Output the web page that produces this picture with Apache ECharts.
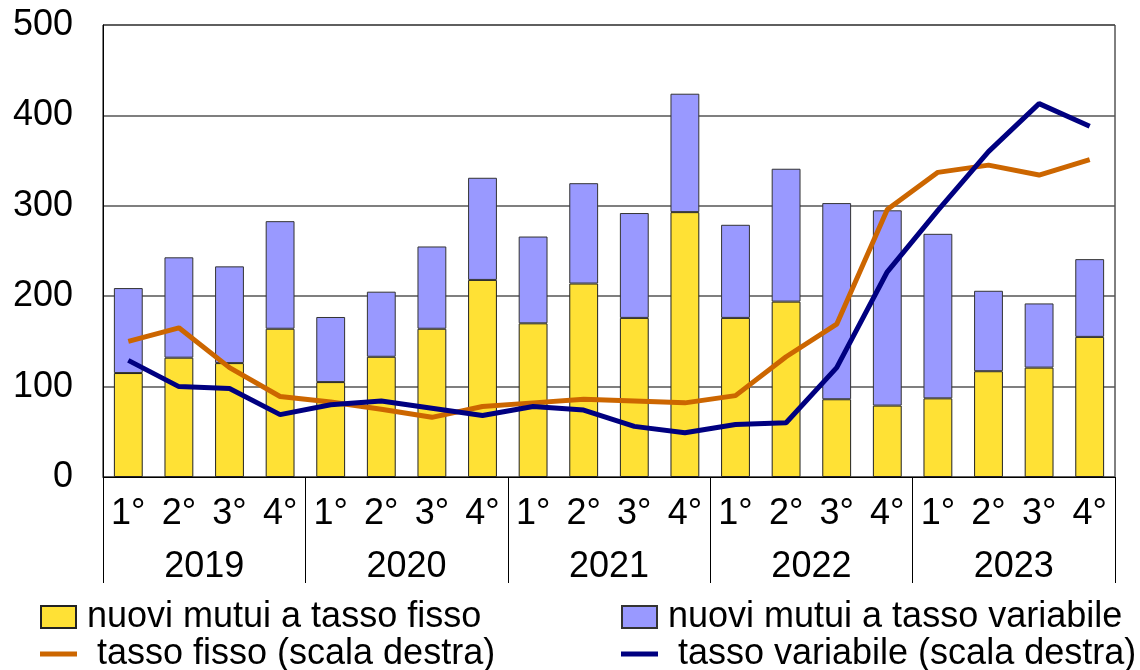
<!DOCTYPE html>
<html>
<head>
<meta charset="utf-8">
<title>Nuovi mutui e tassi</title>
<style>
	html, body { margin: 0; padding: 0; background: #fff; }
	#chart { width: 1140px; height: 670px; }
</style>
</head>
<body>
<div id="chart"></div>
<script src="https://cdn.jsdelivr.net/npm/echarts@6/dist/echarts.min.js"></script>
<script>
// data
var quarters = ['1°','2°','3°','4°','1°','2°','3°','4°','1°','2°','3°','4°','1°','2°','3°','4°','1°','2°','3°','4°'];
var years = ['2019','2020','2021','2022','2023'];
var yTicks = [0, 100, 200, 300, 400, 500];

// nuovi mutui (left scale)
var fisso = [115, 132, 126, 164, 105, 133, 164, 218, 170, 214, 176, 293, 176, 194, 86, 79, 87, 117, 121, 155];
var variabile = [94, 111, 107, 119, 72, 72, 91, 113, 96, 111, 116, 131, 103, 147, 217, 216, 182, 89, 71, 86];

// tassi (right scale, per cento)
var tassoFisso = [1.50, 1.65, 1.21, 0.89, 0.83, 0.75, 0.66, 0.78, 0.82, 0.86, 0.84, 0.82, 0.90, 1.33, 1.69, 2.96, 3.37, 3.45, 3.34, 3.51];
var tassoVariabile = [1.29, 1.00, 0.98, 0.69, 0.80, 0.84, 0.76, 0.68, 0.78, 0.74, 0.56, 0.49, 0.58, 0.60, 1.21, 2.27, 2.95, 3.60, 4.13, 3.88];

(function(){
	var app = echarts.init(document.getElementById('chart'));
	var font = 'Liberation Sans, Arial, sans-serif';

	function legendItem(name, left, top, iconW, iconH, pad) {
		return {
			data: [name],
			left: left,
			top: top,
			padding: 0,
			icon: 'rect',
			itemWidth: iconW,
			itemHeight: iconH,
			selectedMode: false,
			textStyle: { fontFamily: font, fontSize: 36, color: '#000', padding: [0, 0, 0, pad] }
		};
	}

	var option = {
		animation: false,
		backgroundColor: '#fff',
		grid: {
			left: 103,
			right: 25,
			top: 25,
			bottom: 193,
			show: true,
			borderColor: '#000',
			borderWidth: 1
		},
		legend: [
			legendItem('nuovi mutui a tasso fisso', 40, 599, 35, 22, 6),
			legendItem('nuovi mutui a tasso variabile', 621, 599, 35, 22, 6),
			legendItem('tasso fisso (scala destra)', 40, 636, 37, 5, 15),
			legendItem('tasso variabile (scala destra)', 621, 636, 37, 5, 15)
		],
		xAxis: [
			{
				type: 'category',
				data: quarters,
				position: 'bottom',
				axisLine: { show: true, lineStyle: { color: '#000', width: 1 } },
				axisTick: { show: false },
				axisLabel: { interval: 0, fontFamily: font, fontSize: 36, color: '#000', margin: 19 }
			},
			{
				type: 'category',
				data: years,
				position: 'bottom',
				axisLine: { show: false },
				axisTick: { show: true, length: 106, lineStyle: { color: '#000', width: 1 } },
				axisLabel: { interval: 0, fontFamily: font, fontSize: 36, color: '#000', margin: 72 }
			}
		],
		yAxis: [
			{
				type: 'value',
				min: 0,
				max: 500,
				interval: 100,
				axisLine: { show: true, lineStyle: { color: '#000', width: 1 } },
				axisTick: { show: false },
				splitLine: { show: true, lineStyle: { color: '#555', width: 1.5 } },
				axisLabel: {
					fontFamily: font, fontSize: 36, color: '#000', margin: 30,
					formatter: function (v) { return yTicks.indexOf(v) >= 0 ? String(v) : ''; }
				}
			},
			{
				type: 'value',
				min: 0,
				max: 5,
				show: false,
				splitLine: { show: false }
			}
		],
		series: [
			{
				name: 'nuovi mutui a tasso fisso',
				type: 'bar',
				stack: 'mutui',
				barWidth: '57%',
				itemStyle: { color: '#FFE135', borderColor: '#222', borderWidth: 1 },
				data: fisso
			},
			{
				name: 'nuovi mutui a tasso variabile',
				type: 'bar',
				stack: 'mutui',
				barWidth: '57%',
				itemStyle: { color: '#9999FF', borderColor: '#333', borderWidth: 1 },
				data: variabile
			},
			{
				name: 'tasso fisso (scala destra)',
				type: 'line',
				yAxisIndex: 1,
				symbol: 'none',
				z: 5,
				itemStyle: { color: '#CC6600' },
				lineStyle: { color: '#CC6600', width: 5 },
				data: tassoFisso
			},
			{
				name: 'tasso variabile (scala destra)',
				type: 'line',
				yAxisIndex: 1,
				symbol: 'none',
				z: 6,
				itemStyle: { color: '#000080' },
				lineStyle: { color: '#000080', width: 5 },
				data: tassoVariabile
			}
		]
	};

	app.setOption(option);
})();
</script>
</body>
</html>
